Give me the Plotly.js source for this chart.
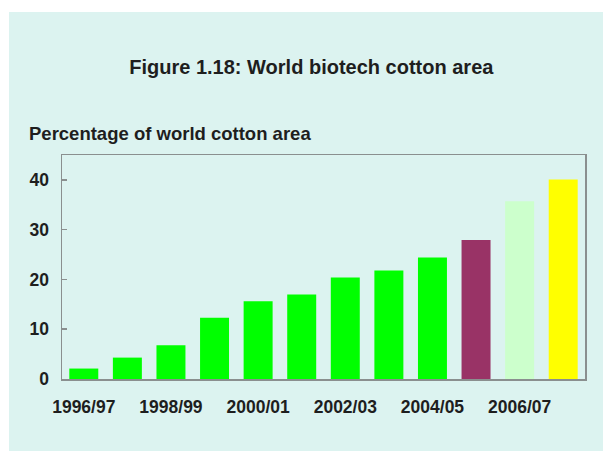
<!DOCTYPE html>
<html>
<head>
<meta charset="utf-8">
<script src="https://cdn.plot.ly/plotly-3.0.1.min.js"></script>
<style>
  html, body { margin: 0; padding: 0; background: #ffffff; width: 603px; height: 451px; overflow: hidden; }
  #chart { position: absolute; left: 9px; top: 12px; width: 594px; height: 439px; }
</style>
</head>
<body>
<div id="chart"></div>
<script>
const seasons = ["1996/97", "1997/98", "1998/99", "1999/00", "2000/01", "2001/02",
                 "2002/03", "2003/04", "2004/05", "2005/06", "2006/07", "2007/08"];
const biotechShare = [2.1, 4.3, 6.8, 12.3, 15.6, 17.0, 20.4, 21.8, 24.4, 27.9, 35.7, 40.1];
const barColors = ["#00ff00", "#00ff00", "#00ff00", "#00ff00", "#00ff00", "#00ff00",
                   "#00ff00", "#00ff00", "#00ff00", "#993366", "#ccffcc", "#ffff00"];
const tickSeasons = ["1996/97", "1998/99", "2000/01", "2002/03", "2004/05", "2006/07"];
const yTicks = [0, 10, 20, 30, 40];

const FONT = "Liberation Sans, Arial, sans-serif";
const TXT = "#1e1e1e";
const AXIS = "#8a8f8f";

const trace = {
  type: "bar",
  x: seasons,
  y: biotechShare,
  marker: { color: barColors, line: { width: 0 } },
  hoverinfo: "x+y"
};

const layout = {
  width: 594,
  height: 439,
  margin: { l: 53, r: 18, t: 143, b: 72 },
  paper_bgcolor: "#dcf3f0",
  plot_bgcolor: "#dcf3f0",
  showlegend: false,
  bargap: 0.335,
  font: { family: FONT, color: TXT },
  title: {
    text: "<b>Figure 1.18: World biotech cotton area</b>",
    font: { family: FONT, size: 20, color: TXT },
    xref: "container", x: 0.509, xanchor: "center",
    yref: "container", y: 0.874, yanchor: "middle"
  },
  xaxis: {
    type: "category",
    range: [-0.5, 11.5],
    tickvals: tickSeasons,
    ticktext: tickSeasons.map(t => "<b>" + t + "</b>"),
    ticks: "",
    tickfont: { family: FONT, size: 17.5, color: TXT },
    ticklabelstandoff: 11,
    showline: true, linecolor: AXIS, linewidth: 1.5, mirror: true,
    showgrid: false, zeroline: false,
    layer: "below traces",
    fixedrange: true
  },
  yaxis: {
    range: [0, 45],
    tickvals: yTicks,
    ticktext: yTicks.map(v => "<b>" + v + "</b>"),
    ticks: "inside", ticklen: 5, tickcolor: AXIS, tickwidth: 1.5,
    tickfont: { family: FONT, size: 17.5, color: TXT },
    ticklabelstandoff: 8,
    showline: true, linecolor: AXIS, linewidth: 1.5, mirror: true,
    showgrid: false, zeroline: false,
    layer: "below traces",
    fixedrange: true
  },
  annotations: [{
    text: "<b>Percentage of world cotton area</b>",
    xref: "paper", yref: "paper",
    x: -0.066, y: 1.096, xanchor: "left", yanchor: "middle",
    showarrow: false,
    font: { family: FONT, size: 18.5, color: TXT }
  }]
};

Plotly.newPlot("chart", [trace], layout, { displayModeBar: false, staticPlot: true });
</script>
</body>
</html>
